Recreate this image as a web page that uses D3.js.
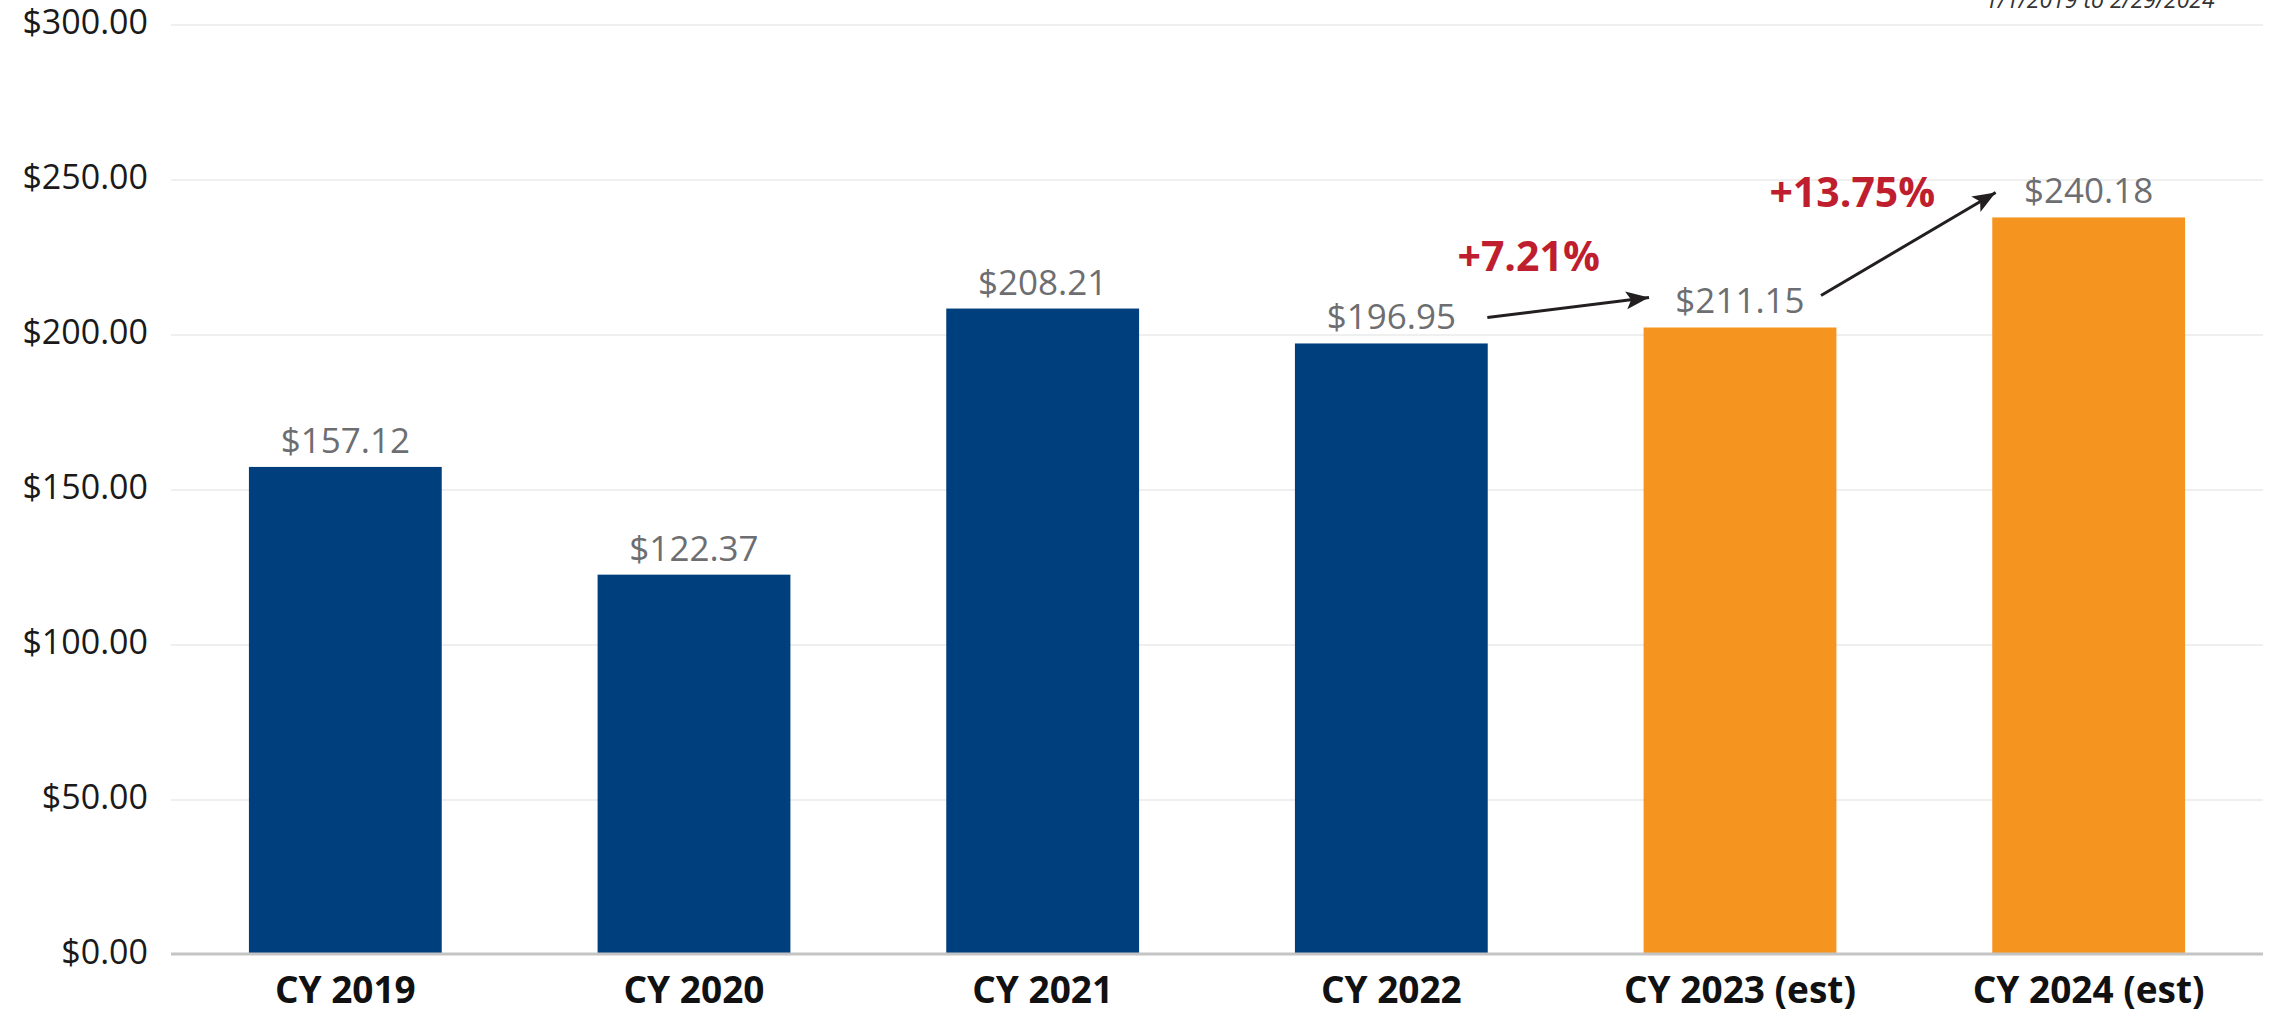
<html lang="en">

    <head>
        <meta charset="utf-8">
        <title>Cost per Calendar Year</title>
        <style>
			body {
				margin: 0;
				background-color: white;
				font-family: "Open Sans", "Noto Sans", sans-serif;
			}

			svg {
				display: block;
				background-color: white;
			}

			.grid line {
				stroke: #efefef;
				stroke-width: 2;
				shape-rendering: crispEdges;
			}

			.grid path {
				stroke: none;
			}

			.baseline {
				stroke: #c4c4c4;
				stroke-width: 3;
			}

			.ylabel {
				font-size: 34px;
				fill: #1a1a1a;
			}

			.xlabel {
				font-size: 37px;
				font-weight: bold;
				fill: #111111;
			}

			.value {
				font-size: 35px;
				fill: #6d6e71;
			}

			.pct {
				font-size: 41px;
				font-weight: bold;
				fill: #be1e2d;
			}

			.arrow {
				stroke: #231f20;
				stroke-width: 3;
				fill: none;
			}

			.range {
				font-size: 23px;
				font-style: italic;
				fill: #333333;
			}
        </style>
    </head>

    <body>
    </body>

    <script type="text/javascript" src="https://cdnjs.cloudflare.com/ajax/libs/d3/7.8.5/d3.min.js"></script>

    <script type="text/javascript">
		// data
		var years = ["CY 2019", "CY 2020", "CY 2021", "CY 2022", "CY 2023 (est)", "CY 2024 (est)"];
		var barValues = [157.12, 122.37, 208.21, 196.95, 202.1, 237.6];   // bar heights as drawn
		var valueLabels = ["$157.12", "$122.37", "$208.21", "$196.95", "$211.15", "$240.18"];
		var estimated = [false, false, false, false, true, true];
		var yTicks = [0, 50, 100, 150, 200, 250, 300];
		var changes = [
			{ from: 3, to: 4, text: "+7.21%" },
			{ from: 4, to: 5, text: "+13.75%" }
		];
		var dateRange = "1/1/2019 to 2/29/2024";

		var fullwidth = 2272;
		var fullheight = 1009;

		var plotLeft = 171, plotRight = 2263;
		var plotTop = 24, plotBottom = 954;

		var svg = d3.select("body")
					.append("svg")
					.attr("width", fullwidth)
					.attr("height", fullheight);

		var xScale = d3.scaleBand()
			.domain(years)
			.range([plotLeft, plotRight])
			.paddingInner(0.447)
			.paddingOuter(0.2235);

		var yScale = d3.scaleLinear()
			.domain([0, 300])
			.range([plotBottom, plotTop]);

		var fmt = d3.format(",.2f");

		// gridlines
		svg.append("g")
			.attr("class", "grid")
			.attr("transform", "translate(" + plotLeft + ",0)")
			.call(d3.axisLeft(yScale)
				.tickValues(yTicks.filter(function(d) { return d > 0; }))
				.tickSize(-(plotRight - plotLeft))
				.tickFormat(""));

		// y labels
		svg.selectAll(".ylabel")
			.data(yTicks)
			.enter()
			.append("text")
			.attr("class", "ylabel")
			.attr("x", 148)
			.attr("y", function(d) { return yScale(d); })
			.attr("dy", "0.3em")
			.style("text-anchor", "end")
			.text(function(d) { return "$" + fmt(d); });

		// bars
		svg.selectAll("rect.bar")
			.data(barValues)
			.enter()
			.append("rect")
			.attr("class", "bar")
			.attr("x", function(d, i) { return xScale(years[i]); })
			.attr("width", xScale.bandwidth())
			.attr("y", function(d) { return yScale(d); })
			.attr("height", function(d) { return yScale(0) - yScale(d); })
			.attr("fill", function(d, i) { return estimated[i] ? "#f5951f" : "#003f7d"; });

		// baseline
		svg.append("line")
			.attr("class", "baseline")
			.attr("x1", plotLeft)
			.attr("x2", plotRight)
			.attr("y1", yScale(0))
			.attr("y2", yScale(0));

		// value labels
		svg.selectAll(".value")
			.data(barValues)
			.enter()
			.append("text")
			.attr("class", "value")
			.attr("x", function(d, i) { return xScale(years[i]) + xScale.bandwidth() / 2; })
			.attr("y", function(d) { return yScale(d) - 14; })
			.style("text-anchor", "middle")
			.text(function(d, i) { return valueLabels[i]; });

		// x labels
		svg.selectAll(".xlabel")
			.data(years)
			.enter()
			.append("text")
			.attr("class", "xlabel")
			.attr("x", function(d) { return xScale(d) + xScale.bandwidth() / 2; })
			.attr("y", 1003)
			.style("text-anchor", "middle")
			.text(function(d) { return d; });

		// arrows + percent change
		svg.append("defs")
			.append("marker")
			.attr("id", "head")
			.attr("viewBox", "-24 -10 26 20")
			.attr("refX", 0)
			.attr("refY", 0)
			.attr("markerWidth", 26)
			.attr("markerHeight", 20)
			.attr("markerUnits", "userSpaceOnUse")
			.attr("orient", "auto")
			.append("path")
			.attr("d", "M0,0 L-23,-9 L-18,0 L-23,9 Z")
			.attr("fill", "#231f20");

		function center(i) { return xScale(years[i]) + xScale.bandwidth() / 2; }

		// start/end offsets picked so arrows sit between the value labels
		var arrowPos = [
			{ x1: 96, y1: -26, x2: -91, y2: -30, tx: -37, ty: 271 },
			{ x1: 81, y1: -32, x2: -93, y2: -25, tx: -62, ty: 207 }
		];

		changes.forEach(function(c, k) {
			var p = arrowPos[k];
			svg.append("line")
				.attr("class", "arrow")
				.attr("x1", center(c.from) + p.x1)
				.attr("y1", yScale(barValues[c.from]) + p.y1)
				.attr("x2", center(c.to) + p.x2)
				.attr("y2", yScale(barValues[c.to]) + p.y2)
				.attr("marker-end", "url(#head)");

			svg.append("text")
				.attr("class", "pct")
				.attr("x", (center(c.from) + center(c.to)) / 2 + p.tx)
				.attr("y", p.ty)
				.style("text-anchor", "middle")
				.text(c.text);
		});

		// date range, cut off at the top like the original
		svg.append("text")
			.attr("class", "range")
			.attr("x", 2100)
			.attr("y", 8)
			.style("text-anchor", "middle")
			.text(dateRange);

    </script>

</html>
